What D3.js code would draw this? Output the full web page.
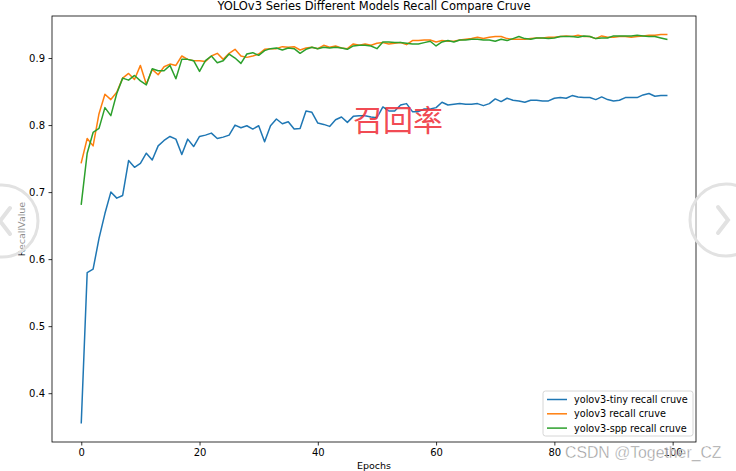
<!DOCTYPE html>
<html>
<head>
<meta charset="utf-8">
<script src="https://cdn.jsdelivr.net/npm/d3@7"></script>
<style>
  body { margin: 0; background: #fff; }
  svg { display: block; font-family: "DejaVu Sans", sans-serif; }
</style>
</head>
<body>
<svg width="736" height="471"></svg>
<script>
// recall values per epoch
var tiny = [0.356, 0.580, 0.585, 0.631, 0.668, 0.700, 0.691, 0.695, 0.747, 0.737,
  0.743, 0.758, 0.748, 0.769, 0.777, 0.783, 0.779, 0.756, 0.779, 0.768,
  0.783, 0.785, 0.788, 0.780, 0.782, 0.785, 0.800, 0.796, 0.799, 0.794,
  0.799, 0.775, 0.799, 0.809, 0.802, 0.805, 0.794, 0.795, 0.821, 0.819,
  0.803, 0.801, 0.798, 0.808, 0.812, 0.804, 0.813, 0.814, 0.814, 0.812,
  0.811, 0.827, 0.821, 0.821, 0.830, 0.832, 0.820, 0.820, 0.824, 0.824,
  0.826, 0.834, 0.830, 0.831, 0.832, 0.831, 0.831, 0.832, 0.829, 0.832,
  0.839, 0.835, 0.840, 0.837, 0.836, 0.834, 0.837, 0.837, 0.836, 0.836,
  0.840, 0.841, 0.840, 0.844, 0.842, 0.841, 0.841, 0.838, 0.842, 0.838,
  0.836, 0.837, 0.841, 0.841, 0.841, 0.845, 0.847, 0.843, 0.844, 0.844];

var yolo = [0.744, 0.780, 0.769, 0.817, 0.846, 0.838, 0.849, 0.870, 0.877, 0.868,
  0.889, 0.861, 0.883, 0.875, 0.887, 0.891, 0.889, 0.903, 0.898, 0.896,
  0.896, 0.895, 0.903, 0.907, 0.898, 0.907, 0.913, 0.903, 0.901, 0.903,
  0.906, 0.913, 0.914, 0.914, 0.917, 0.916, 0.917, 0.912, 0.915, 0.916,
  0.914, 0.919, 0.916, 0.918, 0.915, 0.914, 0.921, 0.919, 0.921, 0.919,
  0.922, 0.923, 0.921, 0.922, 0.923, 0.920, 0.926, 0.926, 0.927, 0.927,
  0.924, 0.926, 0.925, 0.925, 0.927, 0.928, 0.929, 0.931, 0.929, 0.931,
  0.932, 0.932, 0.929, 0.928, 0.928, 0.928, 0.929, 0.930, 0.930, 0.931,
  0.931, 0.932, 0.933, 0.932, 0.934, 0.932, 0.932, 0.929, 0.933, 0.931,
  0.931, 0.932, 0.932, 0.931, 0.932, 0.933, 0.934, 0.934, 0.935, 0.935];

var spp = [0.682, 0.758, 0.789, 0.795, 0.826, 0.814, 0.847, 0.870, 0.867, 0.874,
  0.866, 0.860, 0.884, 0.881, 0.881, 0.889, 0.869, 0.898, 0.898, 0.896,
  0.880, 0.896, 0.903, 0.893, 0.896, 0.906, 0.900, 0.892, 0.906, 0.908,
  0.904, 0.911, 0.914, 0.915, 0.912, 0.915, 0.914, 0.907, 0.913, 0.916,
  0.914, 0.916, 0.915, 0.916, 0.915, 0.913, 0.918, 0.919, 0.919, 0.918,
  0.914, 0.924, 0.924, 0.923, 0.923, 0.922, 0.921, 0.921, 0.923, 0.925,
  0.918, 0.924, 0.926, 0.924, 0.927, 0.927, 0.928, 0.928, 0.927, 0.927,
  0.925, 0.928, 0.926, 0.929, 0.932, 0.929, 0.928, 0.930, 0.930, 0.929,
  0.930, 0.932, 0.932, 0.932, 0.931, 0.933, 0.932, 0.929, 0.930, 0.930,
  0.933, 0.933, 0.933, 0.933, 0.934, 0.933, 0.932, 0.932, 0.930, 0.928];

var seriesNames = ["yolov3-tiny recall cruve", "yolov3 recall cruve", "yolov3-spp recall cruve"];
var colors = ["#1f77b4", "#ff7f0e", "#2ca02c"];
var xTicks = [0, 20, 40, 60, 80, 100];
var yTicks = [0.4, 0.5, 0.6, 0.7, 0.8, 0.9];

var svg = d3.select("svg");
var L = 52, R = 696, T = 16, B = 442;

var x = d3.scaleLinear().domain([-4.95, 103.95]).range([L, R]);
var y = d3.scaleLinear().domain([0.3272, 0.9627]).range([B, T]);

// axes
svg.append("g").attr("transform", "translate(0," + B + ")")
  .call(d3.axisBottom(x).tickValues(xTicks).tickSize(3.5).tickPadding(3.5).tickFormat(d3.format("d")))
  .call(function (g) { g.select(".domain").remove(); });
svg.append("g").attr("transform", "translate(" + L + ",0)")
  .call(d3.axisLeft(y).tickValues(yTicks).tickSize(3.5).tickPadding(3.5).tickFormat(d3.format(".1f")))
  .call(function (g) { g.select(".domain").remove(); });
svg.selectAll(".tick text").attr("font-size", 10).attr("fill", "#000")
  .attr("font-family", "DejaVu Sans, sans-serif");
svg.selectAll(".tick line").attr("stroke", "#000").attr("stroke-width", 0.8);

var line = d3.line().x(function (d, i) { return x(i); }).y(function (d) { return y(d); });
[tiny, yolo, spp].forEach(function (s, k) {
  svg.append("path").datum(s).attr("d", line)
    .attr("fill", "none").attr("stroke", colors[k]).attr("stroke-width", 1.5)
    .attr("stroke-linejoin", "round").attr("stroke-linecap", "square");
});

svg.append("rect").attr("x", L).attr("y", T).attr("width", R - L).attr("height", B - T)
  .attr("fill", "none").attr("stroke", "#000").attr("stroke-width", 0.8);

// labels
svg.append("text").attr("x", (L + R) / 2).attr("y", 10).attr("text-anchor", "middle")
  .attr("font-size", 11.5).text("YOLOv3 Series Different Models Recall Compare Cruve");
svg.append("text").attr("x", (L + R) / 2).attr("y", 469).attr("text-anchor", "middle")
  .attr("font-size", 9.5).text("Epochs");
svg.append("text").attr("transform", "translate(25," + ((T + B) / 2) + ") rotate(-90)")
  .attr("text-anchor", "middle").attr("font-size", 9.5).text("RecallValue");

// legend
var lg = svg.append("g").attr("transform", "translate(543,391)");
lg.append("rect").attr("width", 150).attr("height", 45).attr("rx", 2.5)
  .attr("fill", "#fff").attr("fill-opacity", 0.8).attr("stroke", "#ccc").attr("stroke-width", 0.8);
seriesNames.forEach(function (n, k) {
  var yy = 8.5 + k * 14.3;
  lg.append("line").attr("x1", 4).attr("x2", 24).attr("y1", yy).attr("y2", yy)
    .attr("stroke", colors[k]).attr("stroke-width", 1.5);
  lg.append("text").attr("x", 31).attr("y", yy + 3.5).attr("font-size", 9.7).text(n);
});

// page overlays from the screenshot
svg.append("text").attr("x", 398).attr("y", 131).attr("text-anchor", "middle")
  .attr("font-family", "Noto Sans CJK SC, sans-serif").attr("font-size", 30)
  .attr("fill", "#f0323c").attr("fill-opacity", 0.9).text("召回率");

[[2, 221, -1], [726, 220, 1]].forEach(function (c) {
  svg.append("circle").attr("cx", c[0]).attr("cy", c[1]).attr("r", 36)
    .attr("fill", "#fff").attr("fill-opacity", 0.55)
    .attr("stroke", "#e2e2e2").attr("stroke-width", 3);
  var tx = c[0] + c[2] * 2;
  svg.append("path")
    .attr("d", "M" + (tx - c[2] * 10) + "," + (c[1] - 13) + "L" + tx + "," + c[1] + "L" + (tx - c[2] * 10) + "," + (c[1] + 13))
    .attr("fill", "none").attr("stroke", "#e2e2e2").attr("stroke-width", 4).attr("stroke-linecap", "round");
});

svg.append("text").attr("x", 565).attr("y", 458).attr("font-family", "Liberation Sans, Arial, sans-serif")
  .attr("font-size", 15.8).attr("fill", "#8a8a8a").attr("fill-opacity", 0.9)
  .attr("stroke", "#fff").attr("stroke-width", 0.4).text("CSDN @Together_CZ");
</script>
</body>
</html>
